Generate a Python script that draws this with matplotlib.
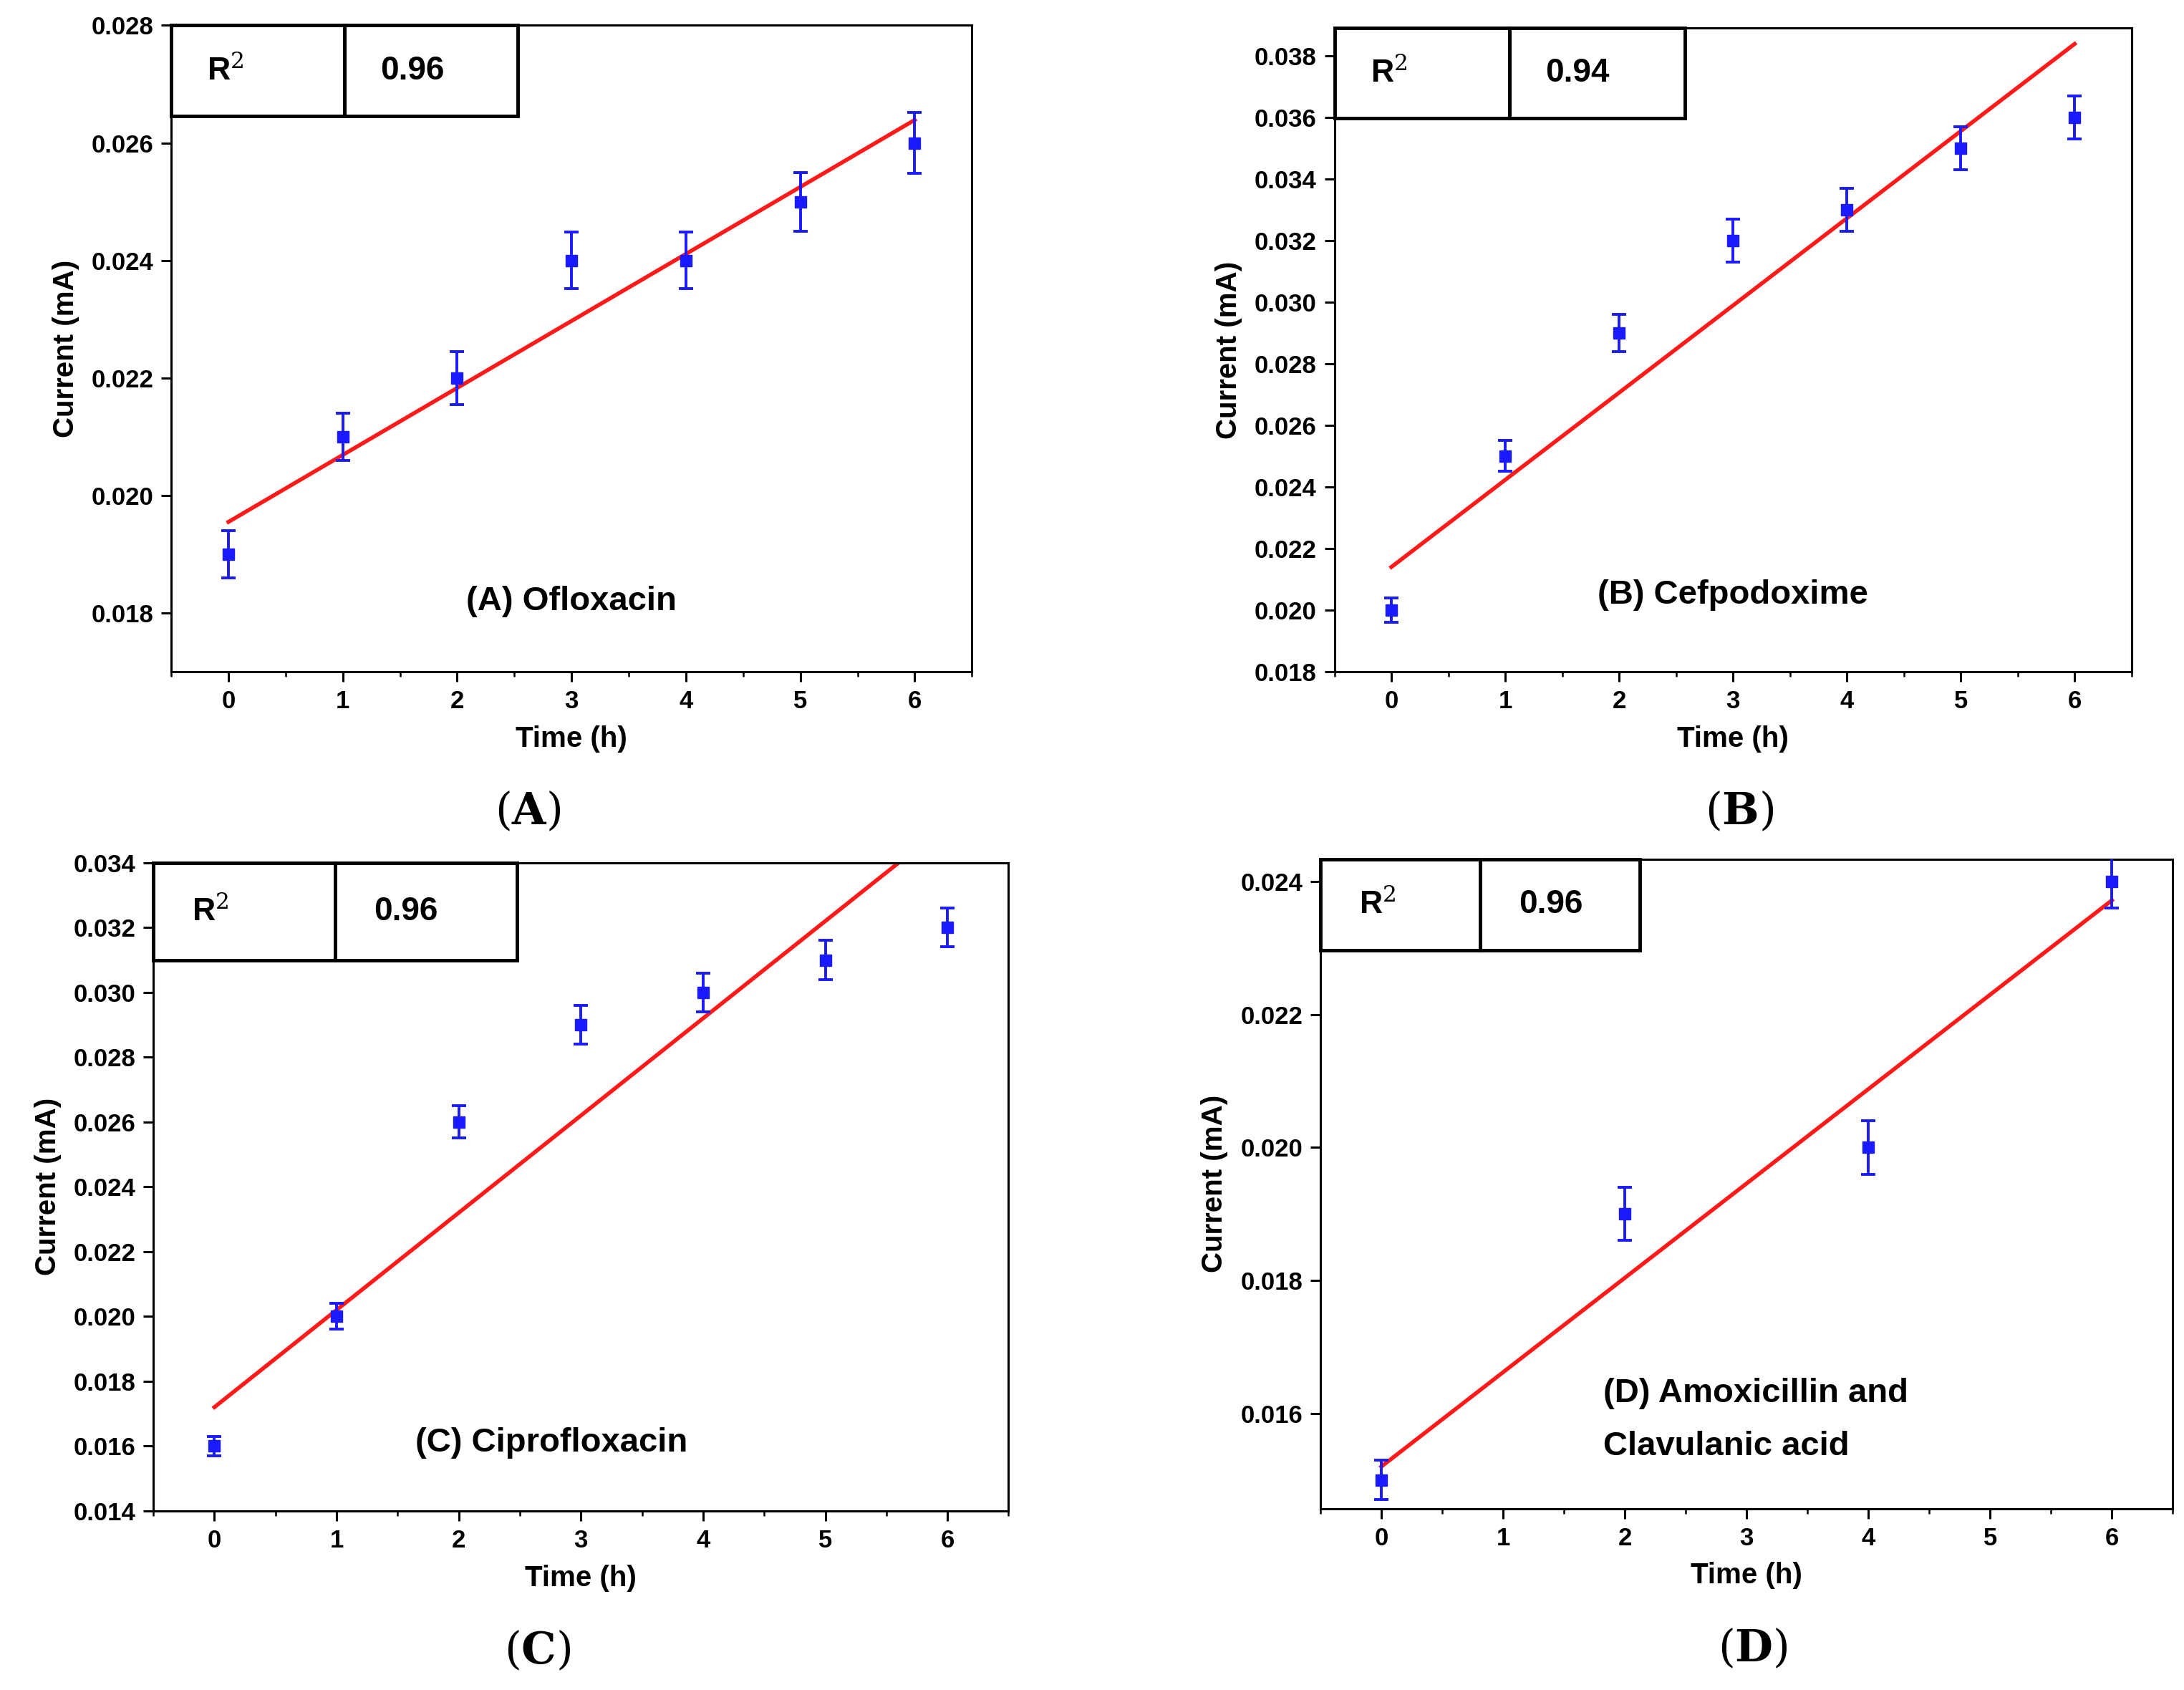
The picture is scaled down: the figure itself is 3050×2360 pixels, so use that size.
import numpy as np
import matplotlib
matplotlib.use("Agg")
import matplotlib.pyplot as plt
from matplotlib.patches import Rectangle

plt.rcParams["font.family"] = "Liberation Sans"
plt.rcParams["mathtext.fontset"] = "dejavuserif"

# ---- data ----
x_A = [0, 1, 2, 3, 4, 5, 6]
y_A = [0.019, 0.021, 0.022, 0.024, 0.024, 0.025, 0.026]
e_A = [0.0004, 0.0004, 0.00045, 0.00048, 0.00048, 0.0005, 0.00052]
fit_A = (0.01955, 0.00114)
r2_A = "0.96"

x_B = [0, 1, 2, 3, 4, 5, 6]
y_B = [0.020, 0.025, 0.029, 0.032, 0.033, 0.035, 0.036]
e_B = [0.0004, 0.0005, 0.0006, 0.0007, 0.0007, 0.0007, 0.0007]
fit_B = (0.0214, 0.00283)
r2_B = "0.94"

x_C = [0, 1, 2, 3, 4, 5, 6]
y_C = [0.016, 0.020, 0.026, 0.029, 0.030, 0.031, 0.032]
e_C = [0.0003, 0.0004, 0.0005, 0.0006, 0.0006, 0.0006, 0.0006]
fit_C = (0.0172, 0.0030)
r2_C = "0.96"

x_D = [0, 2, 4, 6]
y_D = [0.015, 0.019, 0.020, 0.024]
e_D = [0.0003, 0.0004, 0.0004, 0.0004]
fit_D = (0.0152, 0.00142)
r2_D = "0.96"

panels = [
    dict(x=x_A, y=y_A, e=e_A, fit=fit_A, r2=r2_A, ylim=(0.017, 0.028), yt=np.arange(0.018, 0.02801, 0.002),
         rect=[0.0784, 0.6025, 0.3666, 0.3825], lab=[("(A) Ofloxacin", 3.0, 0.0182, "center")], cap="A",
         box=(0.433, 0.14)),
    dict(x=x_B, y=y_B, e=e_B, fit=fit_B, r2=r2_B, ylim=(0.018, 0.0389), yt=np.arange(0.018, 0.03801, 0.002),
         rect=[0.611, 0.6025, 0.365, 0.381], lab=[("(B) Cefpodoxime", 3.0, 0.0205, "center")], cap="B",
         box=(0.44, 0.14)),
    dict(x=x_C, y=y_C, e=e_C, fit=fit_C, r2=r2_C, ylim=(0.014, 0.034), yt=np.arange(0.014, 0.03401, 0.002),
         rect=[0.0702, 0.106, 0.3916, 0.3835], lab=[("(C) Ciprofloxacin", 2.76, 0.0161, "center")], cap="C",
         box=(0.425, 0.15)),
    dict(x=x_D, y=y_D, e=e_D, fit=fit_D, r2=r2_D, ylim=(0.01457, 0.02434), yt=np.arange(0.016, 0.02401, 0.002),
         rect=[0.6046, 0.1074, 0.3903, 0.3843], lab=[("(D) Amoxicillin and", 1.82, 0.0163, "left"),
                                                     ("Clavulanic acid", 1.82, 0.0155, "left")], cap="D",
         box=(0.375, 0.14)),
]

fig = plt.figure(figsize=(30.5, 23.6), dpi=100)
for p in panels:
    ax = fig.add_axes(p["rect"])
    ax.errorbar(p["x"], p["y"], yerr=p["e"], fmt="s", color="#1a1aff", ms=12, capsize=7,
                elinewidth=2.8, capthick=2.8, zorder=3)
    xx = np.array([0, 6])
    b, m = p["fit"]
    ax.plot(xx, b + m * xx, color="#ff1a1a", lw=4, zorder=2)
    ax.set_xlim(-0.5, 6.5)
    ax.set_ylim(*p["ylim"])
    ax.set_xticks(range(7))
    ax.set_yticks(p["yt"])
    ax.set_yticklabels([f"{v:.3f}" for v in p["yt"]])
    ax.set_xticks(np.arange(-0.5, 6.6, 0.5), minor=True)
    ax.tick_params(axis="both", which="major", labelsize=25, width=2.2, length=10, direction="out", pad=8)
    ax.tick_params(axis="x", which="minor", width=1.8, length=5)
    for t in ax.get_xticklabels() + ax.get_yticklabels():
        t.set_fontweight("bold")
    for s in ax.spines.values():
        s.set_linewidth(2.2)
    ax.set_xlabel("Time (h)", fontsize=29, fontweight="bold", labelpad=12)
    ax.set_ylabel("Current (mA)", fontsize=29, fontweight="bold", labelpad=12)
    for txt, tx, ty, ha in p["lab"]:
        ax.text(tx, ty, txt, fontsize=34, fontweight="bold", ha=ha, va="center", zorder=4)
    bw, bh = p["box"]
    ax.add_patch(Rectangle((0, 1 - bh), bw / 2, bh, transform=ax.transAxes, fill=False, lw=3.5, ec="black", clip_on=False))
    ax.add_patch(Rectangle((bw / 2, 1 - bh), bw / 2, bh, transform=ax.transAxes, fill=False, lw=3.5, ec="black", clip_on=False))
    ax.text(0.045, 1 - bh / 2, r"R$^{2}$", transform=ax.transAxes, fontsize=32, fontweight="bold", va="center")
    ax.text(bw / 2 + 0.045, 1 - bh / 2, p["r2"], transform=ax.transAxes, fontsize=33, fontweight="bold", va="center")
    r = p["rect"]
    fig.text(r[0] + r[2] / 2 - 0.02 if p["cap"] in "AC" else r[0] + r[2] / 2 + 0.003, r[1] - 0.083,
             r"($\mathbf{%s}$)" % p["cap"], fontsize=44, ha="center", va="center", family="DejaVu Serif")

fig.savefig("out.png", dpi=100)
